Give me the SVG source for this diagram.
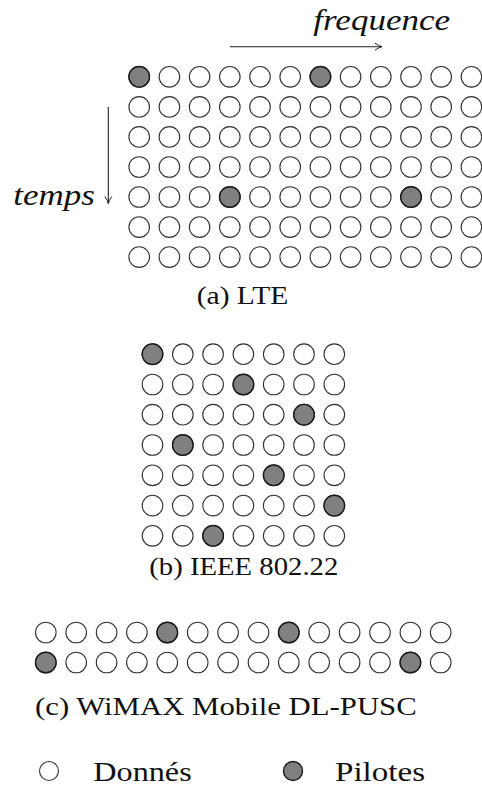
<svg xmlns="http://www.w3.org/2000/svg" xmlns:xlink="http://www.w3.org/1999/xlink" width="482" height="787" viewBox="0 0 482 787">
<style>
  .d { fill: #ffffff; stroke: #333333; stroke-width: 1.1; }
  .p { fill: #808080; stroke: #1a1a1a; stroke-width: 1.4; }
  .t { font-family: "Liberation Serif", "DejaVu Serif", serif; fill: #111111; }
  .cap { font-size: 25px; }
  .it { font-style: italic; font-size: 29px; }
  .leg { font-size: 27px; }
  .ax { stroke: #222222; stroke-width: 1.1; fill: none; }
</style>
<defs>
  <marker id="ah" viewBox="0 0 10 10" refX="9" refY="5" markerWidth="10" markerHeight="10" markerUnits="userSpaceOnUse" orient="auto">
    <path d="M2,1.5 Q6,4.4 9,5 Q6,5.6 2,8.5" fill="none" stroke="#222222" stroke-width="1"/>
  </marker>
  <g id="rowA">
    <circle class="d" cx="139.2" cy="0" r="10.3"/><circle class="d" cx="169.4" cy="0" r="10.3"/>
    <circle class="d" cx="199.6" cy="0" r="10.3"/><circle class="d" cx="229.8" cy="0" r="10.3"/>
    <circle class="d" cx="260.0" cy="0" r="10.3"/><circle class="d" cx="290.2" cy="0" r="10.3"/>
    <circle class="d" cx="320.4" cy="0" r="10.3"/><circle class="d" cx="350.6" cy="0" r="10.3"/>
    <circle class="d" cx="380.8" cy="0" r="10.3"/><circle class="d" cx="411.0" cy="0" r="10.3"/>
    <circle class="d" cx="441.2" cy="0" r="10.3"/><circle class="d" cx="471.4" cy="0" r="10.3"/>
  </g>
  <g id="rowB">
    <circle class="d" cx="152.5" cy="0" r="10.3"/><circle class="d" cx="182.8" cy="0" r="10.3"/>
    <circle class="d" cx="213.1" cy="0" r="10.3"/><circle class="d" cx="243.4" cy="0" r="10.3"/>
    <circle class="d" cx="273.7" cy="0" r="10.3"/><circle class="d" cx="304.0" cy="0" r="10.3"/>
    <circle class="d" cx="334.3" cy="0" r="10.3"/>
  </g>
  <g id="rowC">
    <circle class="d" cx="45.8" cy="0" r="10.3"/><circle class="d" cx="76.2" cy="0" r="10.3"/>
    <circle class="d" cx="106.6" cy="0" r="10.3"/><circle class="d" cx="136.9" cy="0" r="10.3"/>
    <circle class="d" cx="167.3" cy="0" r="10.3"/><circle class="d" cx="197.7" cy="0" r="10.3"/>
    <circle class="d" cx="228.1" cy="0" r="10.3"/><circle class="d" cx="258.5" cy="0" r="10.3"/>
    <circle class="d" cx="288.8" cy="0" r="10.3"/><circle class="d" cx="319.2" cy="0" r="10.3"/>
    <circle class="d" cx="349.6" cy="0" r="10.3"/><circle class="d" cx="380.0" cy="0" r="10.3"/>
    <circle class="d" cx="410.4" cy="0" r="10.3"/><circle class="d" cx="440.7" cy="0" r="10.3"/>
  </g>
</defs>

<g id="lte">
  <use href="#rowA" y="76.8"/><use href="#rowA" y="106.9"/><use href="#rowA" y="136.9"/>
  <use href="#rowA" y="167.0"/><use href="#rowA" y="197.0"/><use href="#rowA" y="227.1"/>
  <use href="#rowA" y="257.1"/>
  <circle class="p" cx="139.2" cy="76.8" r="10.3"/>
  <circle class="p" cx="320.4" cy="76.8" r="10.3"/>
  <circle class="p" cx="229.8" cy="197.0" r="10.3"/>
  <circle class="p" cx="411.0" cy="197.0" r="10.3"/>
  <text class="t cap" x="196.7" y="304" textLength="91.6" lengthAdjust="spacingAndGlyphs">(a) LTE</text>
</g>

<g id="ieee">
  <use href="#rowB" y="354.2"/><use href="#rowB" y="384.5"/><use href="#rowB" y="414.7"/>
  <use href="#rowB" y="445.0"/><use href="#rowB" y="475.3"/><use href="#rowB" y="505.6"/>
  <use href="#rowB" y="535.8"/>
  <circle class="p" cx="152.5" cy="354.2" r="10.3"/>
  <circle class="p" cx="243.4" cy="384.5" r="10.3"/>
  <circle class="p" cx="304.0" cy="414.7" r="10.3"/>
  <circle class="p" cx="182.8" cy="445.0" r="10.3"/>
  <circle class="p" cx="273.7" cy="475.3" r="10.3"/>
  <circle class="p" cx="334.3" cy="505.6" r="10.3"/>
  <circle class="p" cx="213.1" cy="535.8" r="10.3"/>
  <text class="t cap" x="149.3" y="574.5" textLength="189" lengthAdjust="spacingAndGlyphs">(b) IEEE 802.22</text>
</g>

<g id="wimax">
  <use href="#rowC" y="632.5"/><use href="#rowC" y="662.5"/>
  <circle class="p" cx="167.3" cy="632.5" r="10.3"/>
  <circle class="p" cx="288.8" cy="632.5" r="10.3"/>
  <circle class="p" cx="45.8" cy="662.5" r="10.3"/>
  <circle class="p" cx="410.4" cy="662.5" r="10.3"/>
  <text class="t cap" x="35" y="715" textLength="381.7" lengthAdjust="spacingAndGlyphs">(c) WiMAX Mobile DL-PUSC</text>
</g>

<g id="axes">
  <line class="ax" x1="230" y1="46.7" x2="382" y2="46.7" marker-end="url(#ah)"/>
  <line class="ax" x1="108.3" y1="107" x2="108.3" y2="203.5" marker-end="url(#ah)"/>
</g>
<g id="axis-labels">
  <text class="t it" x="313.3" y="30" textLength="136.7" lengthAdjust="spacingAndGlyphs">frequence</text>
  <text class="t it" x="13.3" y="205" textLength="81.7" lengthAdjust="spacingAndGlyphs">temps</text>
</g>

<g id="legend">
  <circle class="d" cx="49" cy="771" r="9.5"/>
  <text class="t leg" x="93.3" y="780.5" textLength="98.4" lengthAdjust="spacingAndGlyphs">Donnés</text>
  <circle class="p" cx="293" cy="771" r="9.5"/>
  <text class="t leg" x="335" y="780.5" textLength="90" lengthAdjust="spacingAndGlyphs">Pilotes</text>
</g>
</svg>
